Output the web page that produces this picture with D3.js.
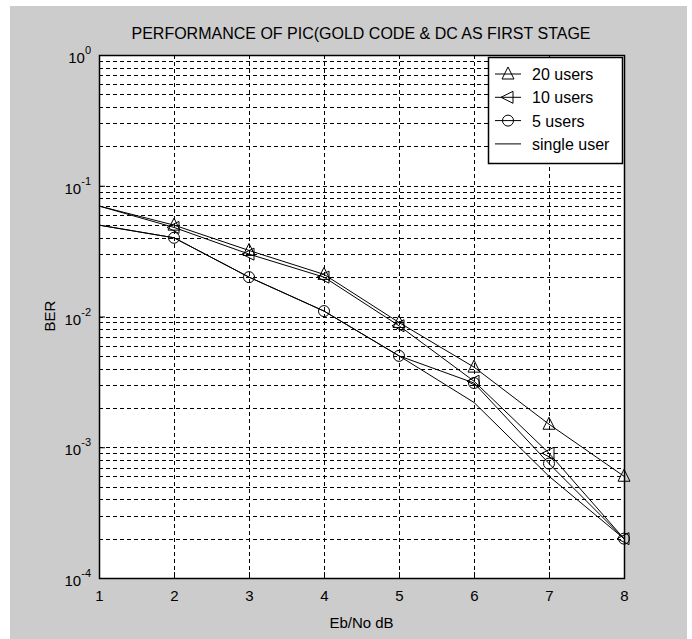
<!DOCTYPE html>
<html>
<head>
<meta charset="utf-8">
<script src="https://cdn.jsdelivr.net/npm/d3@7"></script>
<style>
  body { margin: 0; background: #fff; }
  svg text { font-family: "Liberation Sans", Arial, sans-serif; fill: #000; }
</style>
</head>
<body>
<svg id="chart" width="692" height="639"></svg>
<script>
var ebno = [1, 2, 3, 4, 5, 6, 7, 8]
var users20 = [0.07, 0.05, 0.032, 0.021, 0.009, 0.0041, 0.0015, 0.0006]
var users10 = [0.07, 0.048, 0.03, 0.02, 0.0085, 0.0032, 0.0009, 0.0002]
var users5 = [0.05, 0.04, 0.02, 0.011, 0.005, 0.0031, 0.00075, 0.0002]
var single = [0.05, 0.04, 0.02, 0.011, 0.005, 0.0022, 0.0006, 0.0002]
var xTicks = [1, 2, 3, 4, 5, 6, 7, 8]
var yDecades = [1e0, 1e-1, 1e-2, 1e-3, 1e-4]
var seriesNames = ['20 users', '10 users', '5 users', 'single user']
var seriesMarkers = ['triUp', 'triLeft', 'circle', 'none']

var svg = d3.select('#chart')
var m = {left: 99, top: 55, right: 624, bottom: 578}

svg.append('rect').attr('x', 10).attr('y', 6).attr('width', 677).attr('height', 633).attr('fill', '#cccccc')

var x = d3.scaleLinear().domain([1, 8]).range([m.left, m.right])
var y = d3.scaleLog().domain([1e-4, 1]).range([m.bottom, m.top])

svg.append('rect').attr('x', m.left).attr('y', m.top)
  .attr('width', m.right - m.left).attr('height', m.bottom - m.top).attr('fill', '#fff')

// grid
var minor = []
yDecades.slice(1).forEach(function(d) {
  for (var k = 1; k < 10; k++) minor.push(d * k)
})
var grid = svg.append('g').attr('stroke', '#000').attr('stroke-width', 1).attr('stroke-dasharray', '4,3')
grid.selectAll('.hg').data(minor.filter(function(v) { return v > 1e-4 && v < 1 }))
  .enter().append('line')
  .attr('x1', m.left).attr('x2', m.right)
  .attr('y1', function(d) { return Math.round(y(d)) + 0.5 })
  .attr('y2', function(d) { return Math.round(y(d)) + 0.5 })
grid.selectAll('.vg').data(xTicks.slice(1, -1))
  .enter().append('line')
  .attr('y1', m.top).attr('y2', m.bottom)
  .attr('x1', function(d) { return Math.round(x(d)) + 0.5 })
  .attr('x2', function(d) { return Math.round(x(d)) + 0.5 })

// axes (ticks inside, box)
var xAxis = d3.axisBottom(x).tickValues(xTicks).tickSize(-6).tickPadding(12).tickFormat(d3.format('d'))
var gx = svg.append('g').attr('transform', 'translate(0,' + m.bottom + ')').call(xAxis)
gx.select('.domain').remove()
gx.selectAll('text').attr('font-size', 15).attr('font-family', '"Liberation Sans", Arial, sans-serif')

var yAxis = d3.axisLeft(y).tickValues(yDecades).tickSize(-6).tickFormat('')
var gy = svg.append('g').attr('transform', 'translate(' + m.left + ',0)').call(yAxis)
gy.select('.domain').remove()

var ylab = svg.append('g')
yDecades.forEach(function(d) {
  var t = ylab.append('text').attr('x', m.left - 8).attr('y', y(d) + 8)
    .attr('text-anchor', 'end').attr('font-size', 15)
  t.append('tspan').text('10')
  t.append('tspan').attr('dy', -9).attr('font-size', 11).text(Math.round(Math.log10(d)))
})

svg.append('rect').attr('x', m.left + 0.5).attr('y', m.top + 0.5)
  .attr('width', m.right - m.left).attr('height', m.bottom - m.top)
  .attr('fill', 'none').attr('stroke', '#000').attr('stroke-width', 1.5)

// labels
svg.append('text').attr('x', 361).attr('y', 39).attr('text-anchor', 'middle').attr('font-size', 16)
  .text('PERFORMANCE OF PIC(GOLD CODE & DC AS FIRST STAGE')
svg.append('text').attr('x', (m.left + m.right) / 2).attr('y', 628).attr('text-anchor', 'middle').attr('font-size', 15)
  .text('Eb/No dB')
svg.append('text').attr('transform', 'translate(55,316) rotate(-90)').attr('text-anchor', 'middle').attr('font-size', 15)
  .text('BER')

// series
function marker(g, type, cx, cy) {
  if (type === 'triUp') {
    g.append('path').attr('d', 'M' + cx + ',' + (cy - 7) + 'L' + (cx + 6) + ',' + (cy + 5) + 'L' + (cx - 6) + ',' + (cy + 5) + 'Z')
  } else if (type === 'triLeft') {
    g.append('path').attr('d', 'M' + (cx - 7) + ',' + cy + 'L' + (cx + 5) + ',' + (cy - 6) + 'L' + (cx + 5) + ',' + (cy + 6) + 'Z')
  } else if (type === 'circle') {
    g.append('circle').attr('cx', cx).attr('cy', cy).attr('r', 5.5)
  }
}
var line = d3.line().x(function(d) { return x(d[0]) }).y(function(d) { return y(d[1]) })
var allSeries = [users20, users10, users5, single]
var plot = svg.append('g').attr('fill', 'none').attr('stroke', '#000').attr('stroke-width', 1)
allSeries.forEach(function(vals, i) {
  var pts = ebno.map(function(e, j) { return [e, vals[j]] })
  plot.append('path').attr('d', line(pts))
  // no marker drawn at the left edge
  pts.slice(1).forEach(function(p) { marker(plot, seriesMarkers[i], x(p[0]), y(p[1])) })
})

// legend
var lg = svg.append('g')
lg.append('rect').attr('x', 488.5).attr('y', 57.5).attr('width', 134).attr('height', 106)
  .attr('fill', '#fff').attr('stroke', '#000').attr('stroke-width', 1.5)
seriesNames.forEach(function(name, i) {
  var ly = 74 + i * 23.3
  var lgl = lg.append('g').attr('fill', 'none').attr('stroke', '#000').attr('stroke-width', 1)
  lgl.append('line').attr('x1', 495).attr('x2', 521).attr('y1', ly).attr('y2', ly)
  marker(lgl, seriesMarkers[i], 508, ly)
  lg.append('text').attr('x', 532).attr('y', ly + 6).attr('font-size', 16).text(name)
})
</script>
</body>
</html>
